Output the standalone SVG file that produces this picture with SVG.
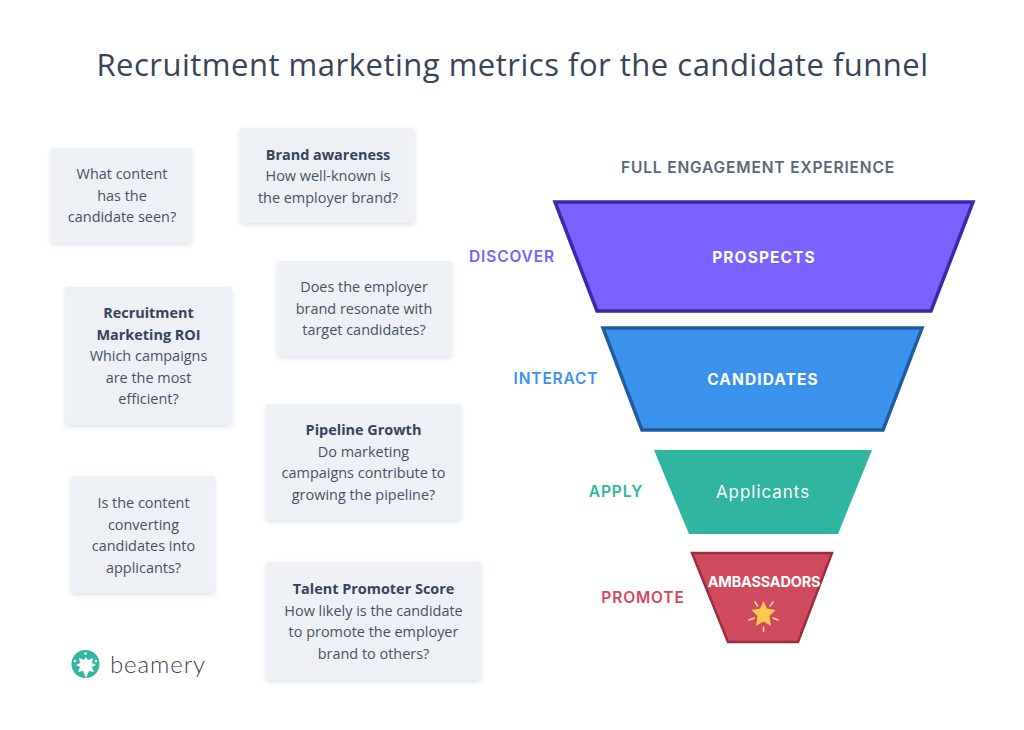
<svg xmlns="http://www.w3.org/2000/svg" width="1024" height="730" viewBox="0 0 1024 730">
<style>
text{font-family:"Open Sans","Liberation Sans",sans-serif}
.card{fill:#edf1f6;filter:url(#sh)}
.t{font-size:14.45px;fill:#465264;text-anchor:middle}
.b{font-weight:700;fill:#36445a}
.st{font-size:15.5px;font-weight:600;text-anchor:middle;letter-spacing:.85px;font-family:Inter,"Open Sans",sans-serif}
.f{stroke-width:3.5;stroke-linejoin:miter}
.lab{font-size:15.5px;font-weight:700;fill:#fff;text-anchor:middle;letter-spacing:1.1px;font-family:Inter,"Open Sans",sans-serif}
</style>
<defs><filter id="sh" x="-10%" y="-10%" width="120%" height="125%"><feDropShadow dx="0" dy="2" stdDeviation="2.5" flood-color="#8a97a8" flood-opacity=".3"/></filter></defs>
<rect width="1024" height="730" fill="#fff"/>
<text x="512.500" y="76" font-size="31" font-weight="500" fill="#36445a" text-anchor="middle" letter-spacing=".5">Recruitment marketing metrics for the candidate funnel</text>
<g id="card-content"><rect class="card" x="51" y="148" width="141" height="95" rx="3"/><text class="t"><tspan x="122" y="179">What content</tspan><tspan x="122" y="201">has the</tspan><tspan x="122" y="222">candidate seen?</tspan></text></g>
<g id="card-brand"><rect class="card" x="240" y="128" width="175" height="95" rx="3"/><text class="t"><tspan class="b" x="328" y="160">Brand awareness</tspan><tspan x="328" y="181">How well-known is</tspan><tspan x="328" y="203">the employer brand?</tspan></text></g>
<g id="card-resonate"><rect class="card" x="277" y="261" width="175" height="95" rx="3"/><text class="t"><tspan x="364" y="292">Does the employer</tspan><tspan x="364" y="314">brand resonate with</tspan><tspan x="364" y="335">target candidates?</tspan></text></g>
<g id="card-roi"><rect class="card" x="65" y="287" width="167" height="138" rx="3"/><text class="t"><tspan class="b" x="148.500" y="318">Recruitment</tspan><tspan class="b" x="148.500" y="340">Marketing ROI</tspan><tspan x="148.500" y="361">Which campaigns</tspan><tspan x="148.500" y="383">are the most</tspan><tspan x="148.500" y="404">efficient?</tspan></text></g>
<g id="card-pipeline"><rect class="card" x="266" y="404" width="195" height="116" rx="3"/><text class="t"><tspan class="b" x="363.500" y="435">Pipeline Growth</tspan><tspan x="363.500" y="457">Do marketing</tspan><tspan x="363.500" y="478">campaigns contribute to</tspan><tspan x="363.500" y="500">growing the pipeline?</tspan></text></g>
<g id="card-converting"><rect class="card" x="71" y="476" width="144" height="117" rx="3"/><text class="t"><tspan x="143.500" y="508">Is the content</tspan><tspan x="143.500" y="530">converting</tspan><tspan x="143.500" y="551">candidates into</tspan><tspan x="143.500" y="573">applicants?</tspan></text></g>
<g id="card-talent"><rect class="card" x="266" y="562" width="215" height="118" rx="3"/><text class="t"><tspan class="b" x="373.500" y="594">Talent Promoter Score</tspan><tspan x="373.500" y="616">How likely is the candidate</tspan><tspan x="373.500" y="637">to promote the employer</tspan><tspan x="373.500" y="659">brand to others?</tspan></text></g>
<text x="758" y="173" font-size="15.5" font-weight="600" fill="#5a6679" text-anchor="middle" letter-spacing=".85" style="font-family:Inter,'Open Sans',sans-serif">FULL ENGAGEMENT EXPERIENCE</text>
<g id="prospects"><polygon class="f" points="555,202 973,202 931,311 597,311" fill="#7b61ff" stroke="#4127a8"/><text class="lab" x="764" y="263">PROSPECTS</text></g>
<g id="candidates"><polygon class="f" points="603,328 922,328 883,430 642,430" fill="#3a92ed" stroke="#1f5c9f"/><text class="lab" x="763" y="385">CANDIDATES</text></g>
<g id="applicants"><polygon points="654,450 872,450 838,534 689,534" fill="#2fb5a0"/><text x="763" y="498" font-size="17" fill="#fff" text-anchor="middle" letter-spacing=".95" style="font-family:Inter,'Open Sans',sans-serif">Applicants</text></g>
<g id="ambassadors"><polygon points="692,553 832,553 798,642 728,642" fill="#cf4a5c" stroke="#9c2c42" stroke-width="2.500"/><text x="764" y="587" font-size="14.500" font-weight="700" fill="#fff" text-anchor="middle" letter-spacing="-.2" style="font-family:Inter,sans-serif">AMBASSADORS</text>
<polygon points="763.500,601 767,608.500 775.500,610 769.500,616 771,626 763.500,621.500 756,626 757.500,616 751.500,610 760,608.500" fill="#fcc850"/>
<path d="M755 602l2.500 4M773 602l-3 4M749 620l5.500-2M778 620l-5-2M763.500 627v4.500" stroke="#fbd9a0" stroke-width="1.500" stroke-linecap="round" fill="none"/></g>
<text class="st" x="512" y="262" fill="#7b61ff">DISCOVER</text>
<text class="st" x="556" y="384" fill="#3a92ed">INTERACT</text>
<text class="st" x="616" y="497" fill="#2fb5a0">APPLY</text>
<text class="st" x="643" y="603" fill="#cf4a5c">PROMOTE</text>
<g id="logo"><circle cx="85.500" cy="664" r="14" fill="#2fb5a0"/><path d="M85.500 657l2.500 3 5-2-1 5 4 2-4 2 2 5-5-1-3 7-3-7-5 1 2-5-4-2 4-2-1-5 5 2z" fill="#fff"/><circle cx="85.500" cy="653.500" r="1.300" fill="#fff"/><circle cx="96" cy="661" r="1.300" fill="#fff"/><circle cx="75" cy="661" r="1.300" fill="#fff"/><text x="110" y="673" font-size="24" font-weight="300" fill="#3c4350" letter-spacing=".9" style="font-family:Lato,sans-serif">beamery</text></g>
</svg>
